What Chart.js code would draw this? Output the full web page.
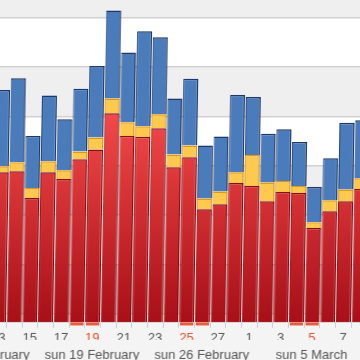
<!DOCTYPE html>
<html>
<head>
<meta charset="utf-8">
<script src="https://cdn.jsdelivr.net/npm/chart.js@4.4.0/dist/chart.umd.min.js"></script>
<style>
  html, body { margin: 0; padding: 0; width: 360px; height: 360px; overflow: hidden; background: #f4f4f4; }
  #wrap {
    position: absolute; left: -25px; top: -32px; width: 392px; height: 392px;
    transform: skewX(-1deg); transform-origin: 0 354px;
  }
</style>
</head>
<body>
<div id="wrap"><canvas id="daily-load"></canvas></div>
<script>
// one category per day, 12 Feb (bar off screen) to 8 Mar
const days = [
  '2006-02-12', '2006-02-13', '2006-02-14', '2006-02-15', '2006-02-16', '2006-02-17',
  '2006-02-18', '2006-02-19', '2006-02-20', '2006-02-21', '2006-02-22', '2006-02-23',
  '2006-02-24', '2006-02-25', '2006-02-26', '2006-02-27', '2006-02-28', '2006-03-01',
  '2006-03-02', '2006-03-03', '2006-03-04', '2006-03-05', '2006-03-06', '2006-03-07',
  '2006-03-08',
];
const dayLabels = [
  '', '13', '', '15', '', '17', '', '19', '', '21', '', '23',
  '', '25', '', '27', '', '1', '', '3', '', '5', '', '7', '',
];
const weekLabels = [
  'sun 12 February', '', '', '', '', '', '', 'sun 19 February', '', '', '', '', '',
  '', 'sun 26 February', '', '', '', '', '', '', 'sun 5 March', '', '', '',
];

const redValues = [
  null, 303, 305, 251, 303, 289, 329, 349, 422, 376, 374, 392, 313,
  333, 228, 238, 281, 275, 244, 263, 261, 190, 224, 244, 269,
];
const yellowValues = [
  null, 12, 18, 20, 22, 18, 16, 24, 30, 28, 22, 28, 26,
  24, 22, 26, 22, 63, 38, 22, 14, 12, 22, 24, 22,
];
const blueValues = [
  null, 154, 170, 105, 133, 103, 127, 145, 178, 141, 192, 156, 113,
  135, 107, 111, 156, 117, 99, 105, 89, 71, 85, 135, 117,
];

const gridValues = [16, 116, 216, 316, 416, 516, 616, 716];

const isWeekend = i => {
  const d = new Date(days[i] + 'T12:00:00').getDay();
  return d === 0 || d === 6;
};

Chart.defaults.font.family = '"Liberation Sans", Arial, sans-serif';
Chart.defaults.font.size = 13;

function redFill(ctx) {
  const area = ctx.chart.chartArea;
  if (!area) return '#e33';
  const g = ctx.chart.ctx.createLinearGradient(0, area.top, 0, area.bottom);
  g.addColorStop(0, '#ff7070');
  g.addColorStop(0.4, '#f44a4a');
  g.addColorStop(1, '#a80f17');
  return g;
}

// alternating grey / white bands between the grid lines
const bands = {
  id: 'bands',
  beforeDraw(chart) {
    const { ctx, chartArea, scales: { y } } = chart;
    ctx.save();
    ctx.fillStyle = '#ffffff';
    ctx.fillRect(chartArea.left, chartArea.top, chartArea.width, chartArea.height);
    ctx.fillStyle = '#efefef';
    for (let i = 0; i < gridValues.length - 1; i += 2) {
      const top = y.getPixelForValue(gridValues[i + 1]);
      const bottom = y.getPixelForValue(gridValues[i]);
      ctx.fillRect(chartArea.left, top, chartArea.width, bottom - top);
    }
    ctx.restore();
  },
};

// weekend markers under the axis
const weekendMarks = {
  id: 'weekendMarks',
  afterDraw(chart) {
    const { ctx, chartArea, scales: { x } } = chart;
    const w = x.width / days.length * 0.84;
    ctx.save();
    ctx.fillStyle = '#e8583a';
    days.forEach((d, i) => {
      if (!isWeekend(i)) return;
      ctx.fillRect(x.getPixelForValue(i) - w / 2, chartArea.bottom + 0.5, w, 3);
    });
    ctx.restore();
  },
};

const barStyle = { borderWidth: { top: 1.5, left: 1, right: 1.5, bottom: 0 }, borderSkipped: false };

new Chart('daily-load', {
  type: 'bar',
  data: {
    labels: days,
    datasets: [
      { data: redValues, backgroundColor: redFill, borderColor: '#8e0b10', ...barStyle },
      { data: yellowValues, backgroundColor: '#ffc94d', borderColor: '#df960f', ...barStyle },
      { data: blueValues, backgroundColor: '#4a7bbb', borderColor: '#1b3868', ...barStyle },
    ],
  },
  options: {
    responsive: true,
    maintainAspectRatio: false,
    animation: false,
    layout: { padding: 0 },
    datasets: { bar: { categoryPercentage: 1, barPercentage: 0.96 } },
    plugins: { legend: { display: false }, tooltip: { enabled: false } },
    scales: {
      x: {
        stacked: true,
        offset: true,
        grid: { offset: true, drawOnChartArea: false, tickLength: 6, color: '#cfcfcf' },
        border: { color: '#d4d4d4' },
        ticks: {
          autoSkip: false,
          maxRotation: 0,
          padding: 3,
          callback: (v, i) => dayLabels[i],
          color: ctx => (isWeekend(ctx.index) ? '#e0502f' : '#555'),
        },
        afterFit: s => { s.height = 18; s.paddingLeft = 0; s.paddingRight = 0; },
      },
      x2: {
        type: 'category',
        labels: days,
        position: 'bottom',
        offset: true,
        grid: { display: false },
        border: { display: false },
        ticks: {
          autoSkip: false,
          maxRotation: 0,
          padding: 0,
          color: '#555',
          callback: (v, i) => weekLabels[i],
        },
        afterFit: s => { s.height = 20; s.paddingLeft = 0; s.paddingRight = 0; },
      },
      y: {
        stacked: true,
        min: 0,
        max: 716,
        grid: { color: '#d2d2d2', lineWidth: 1.5, drawTicks: false },
        border: { display: false },
        ticks: { display: false },
        afterBuildTicks: s => { s.ticks = gridValues.map(v => ({ value: v })); },
        afterFit: s => { s.width = 0; },
      },
    },
  },
  plugins: [bands, weekendMarks],
});
</script>
</body>
</html>
